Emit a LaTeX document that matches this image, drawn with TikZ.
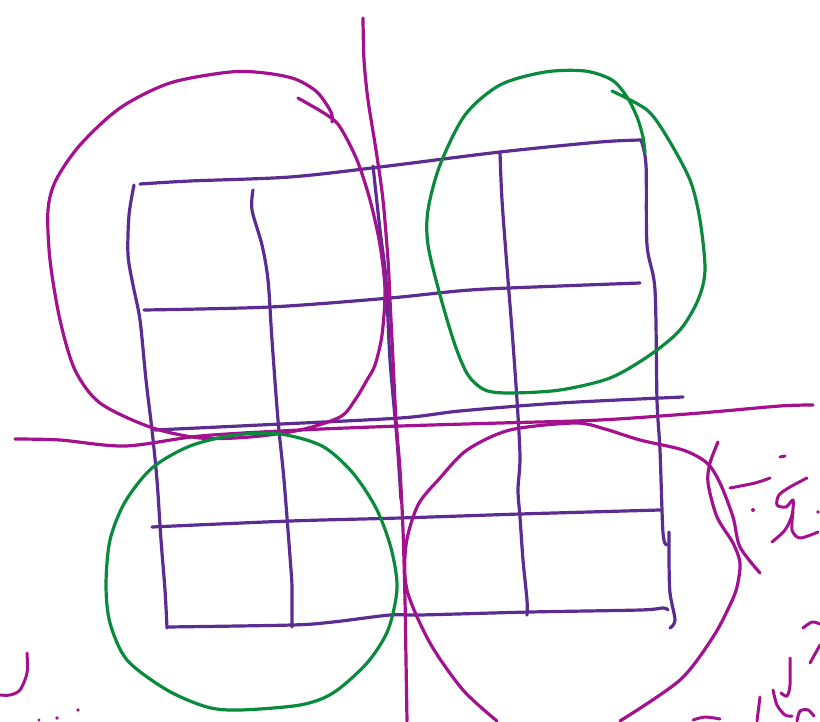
\documentclass[tikz,border=0pt]{standalone}
\usepackage{tikz}

\definecolor{gridink}{HTML}{5B2D92}
\definecolor{redink}{HTML}{A3118E}
\definecolor{greenink}{HTML}{0A8A3D}

\begin{document}
\begin{tikzpicture}[
  x=1pt, y=-1pt,
  pen/.style={line width=3.2pt, line cap=round, line join=round},
  gridline/.style={pen, draw=gridink},
  cut/.style={pen, draw=redink},
  ring/.style={pen, draw=greenink},
  scrib/.style={pen, draw=redink, line width=3pt}
]
\useasboundingbox (0,0) rectangle (820,721);

% grid: rows
\draw[gridline] plot[smooth] coordinates {(140,184) (190,181) (290,177) (380,167) (500,152) (600,142) (641,140)};
\draw[gridline] plot[smooth] coordinates {(144,310) (270,307) (390,298) (470,290) (560,286) (640,283)};
\draw[gridline] plot[smooth] coordinates {(155,430) (260,425) (400,418) (460,411) (560,403) (683,397)};
\draw[gridline] plot[smooth] coordinates {(152,527) (290,521) (400,518) (520,514) (660,510)};
\draw[gridline] plot[smooth] coordinates {(167,627) (292,625) (333,622) (390,615) (420,615) (530,612) (640,610) (663,608) (668,610)};

% grid: columns
\draw[gridline] plot[smooth] coordinates {(134,185) (129,215) (128,255) (133,285) (140,320) (146,380) (152,430) (157,480) (161,540) (165,590) (167,628)};
\draw[gridline] plot[smooth] coordinates {(253,190) (252,210) (262,245) (268,280) (272,340) (278,420) (284,480) (291,570) (292,590) (292,627)};
\draw[gridline] plot[smooth] coordinates {(373,166) (380,230) (386,280) (390,360) (397,440) (401,500)};
\draw[gridline] plot[smooth] coordinates {(500,152) (502,200) (508,280) (512,330) (517,400) (520,457) (518,490) (520,517) (523,560) (527,600) (527,615)};
\draw[gridline] plot[smooth] coordinates {(641,140) (646,165) (647,245) (655,290) (657,400) (660,450) (663,533) (667,545)};
\draw[gridline] plot[smooth] coordinates {(669,532) (669,560) (670,593) (675,620) (670,628)};

% cutting lines
\draw[cut] plot[smooth] coordinates {(363,18) (364,60) (368,100) (376,150) (383,200) (388,260) (390,300) (393,360) (396,420) (400,470) (403,530) (405,600) (406,660) (407,721)};
\draw[cut] plot[smooth] coordinates {(15,439) (60,440) (125,446) (200,436) (300,430) (400,426) (500,423) (600,420) (700,413) (780,406) (813,405)};

% top left group
\draw[cut] plot[smooth] coordinates {(298,98) (327,115) (340,127) (357,160) (370,200) (380,245) (385,290) (382,335) (375,365) (367,380) (355,400) (340,417) (300,430) (250,437) (200,438) (150,427) (100,403) (75,370) (60,320) (50,260) (48,210) (56,180) (80,145) (120,108) (170,83) (230,72) (265,73) (295,79) (317,92) (331,112) (332,122)};

% top right group
\draw[ring] plot[smooth] coordinates {(612,91) (647,110) (667,137) (690,180) (700,220) (705,270) (698,300) (680,330) (650,355) (610,378) (560,390) (510,393) (485,390) (468,375) (455,345) (440,295) (428,245) (428,210) (440,165) (465,115) (500,85) (545,72) (585,71) (612,80) (627,97) (637,117) (643,137) (645,153)};

% bottom left group
\draw[ring] plot[smooth cycle] coordinates {(190,446) (235,435) (280,434) (322,446) (352,472) (376,508) (391,548) (397,588) (388,630) (367,663) (333,693) (300,705) (240,710) (207,707) (167,690) (127,660) (110,623) (106,585) (110,540) (125,502) (152,468)};

% bottom right group
\draw[cut] plot[smooth] coordinates {(497,721) (463,690) (430,643) (407,590) (406,545) (418,505) (440,478) (467,450) (510,430) (575,423) (605,429) (640,440) (683,450) (707,463) (720,483) (733,517) (740,547) (760,573)};
\draw[cut] plot[smooth] coordinates {(718,442) (710,463) (708,483) (717,517) (733,543) (740,563) (737,587) (730,605) (713,637) (680,680) (620,721)};

% notes at the margin
\draw[scrib] plot[smooth] coordinates {(730,488) (755,483) (770,478)};
\draw[scrib] (780,457) -- (785,456);
\fill[redink] (753,510) circle (2pt);
\draw[scrib] plot[smooth] coordinates {(807,478) (790,487) (779,495) (777,505) (786,507) (793,500) (792,515) (785,530) (772,542)};
\draw[scrib] plot[smooth] coordinates {(793,512) (792,530) (800,538) (818,532)};
\fill[redink] (818,512) circle (1.8pt);
\draw[scrib] plot[smooth] coordinates {(803,628) (812,622) (820,624)};
\draw[scrib] (810,663) -- (820,645);
\draw[scrib] plot[smooth] coordinates {(790,658) (790,685) (787,696) (781,693)};
\draw[scrib] (760,697) -- (757,721);
\draw[scrib] plot[smooth] coordinates {(773,690) (777,705) (785,715) (792,716)};
\draw[scrib] plot[smooth] coordinates {(797,721) (800,711) (808,710) (814,716)};
\draw[scrib] plot[smooth] coordinates {(693,720) (705,717) (720,719)};
\draw[scrib] plot[smooth] coordinates {(27,653) (27,673) (20,690) (10,695) (0,695)};
\fill[redink] (78,710) circle (1.8pt);
\fill[redink] (57,718) circle (1.8pt);
\fill[redink] (39,720) circle (1.6pt);
\end{tikzpicture}
\end{document}
